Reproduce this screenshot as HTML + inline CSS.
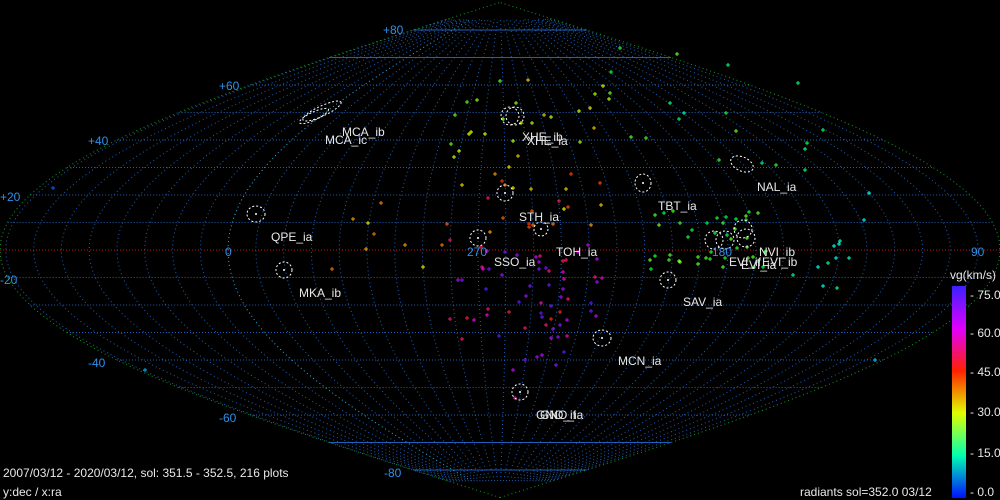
<!DOCTYPE html>
<html><head><meta charset="utf-8"><style>
html,body{margin:0;padding:0;background:#000;width:1000px;height:500px;overflow:hidden}
svg{display:block}
text{font-family:"Liberation Sans",sans-serif}
</style></head><body>
<svg id="s" width="1000" height="500" xmlns="http://www.w3.org/2000/svg">
<rect width="1000" height="500" fill="#000"/>
<g id="grid"></g>
<g id="pts"></g>
<g fill="none" stroke="#fff" stroke-width="1" stroke-dasharray="2,2">
<ellipse cx="322" cy="111" rx="21" ry="5" transform="rotate(-25 322 111)"/>
<ellipse cx="314" cy="116" rx="16" ry="4" transform="rotate(-25 314 116)"/>
<circle cx="510" cy="116" r="9"/><circle cx="515" cy="116" r="9"/>
<circle cx="505" cy="193" r="8"/><circle cx="541" cy="229" r="7"/>
<circle cx="478" cy="238" r="8"/>
<ellipse cx="643" cy="183" rx="8" ry="9"/>
<ellipse cx="742" cy="164" rx="12" ry="7" transform="rotate(25 742 164)"/>
<ellipse cx="256" cy="214" rx="9" ry="8"/>
<circle cx="284" cy="270" r="8"/>
<circle cx="668" cy="280" r="8"/>
<ellipse cx="602" cy="338" rx="9" ry="8"/>
<circle cx="520" cy="392" r="8"/>
<circle cx="714" cy="240" r="9"/><circle cx="725" cy="240" r="9"/>
<circle cx="743" cy="229" r="9"/><circle cx="746" cy="238" r="9"/>
</g>
<g fill="#fff">
<circle cx="256" cy="214" r="1"/><circle cx="284" cy="270" r="1"/><circle cx="505" cy="193" r="1"/>
<circle cx="478" cy="238" r="1"/><circle cx="541" cy="229" r="1"/><circle cx="668" cy="280" r="1"/>
<circle cx="602" cy="338" r="1"/><circle cx="520" cy="392" r="1"/><circle cx="643" cy="183" r="1"/>
</g>
<g fill="#e8e8e8" font-size="12">
<text x="342" y="136">MCA_ib</text><text x="325" y="144">MCA_ic</text>
<text x="522" y="141">XHE_ib</text><text x="527" y="145">XHE_ia</text>
<text x="519" y="221">STH_ia</text>
<text x="494" y="266">SSO_ia</text>
<text x="556" y="256">TOH_ia</text>
<text x="658" y="210">TBT_ia</text>
<text x="757" y="191">NAL_ia</text>
<text x="271" y="241">QPE_ia</text>
<text x="299" y="297">MKA_ib</text>
<text x="683" y="306">SAV_ia</text>
<text x="618" y="365">MCN_ia</text>
<text x="536" y="419">GNO_if</text><text x="540" y="419">GNO_ia</text>
<text x="759" y="256">NVI_ib</text>
<text x="729" y="266">EVI_if</text><text x="762" y="266">EVI_ib</text><text x="741" y="269">EVI_ia</text>
</g>
<g fill="#2f8fe8" font-size="12">
<text x="383" y="34">+80</text><text x="219" y="90">+60</text><text x="88" y="145">+40</text>
<text x="0" y="201">+20</text><text x="225" y="256">0</text><text x="0" y="284">-20</text>
<text x="88" y="367">-40</text><text x="219" y="422">-60</text><text x="384" y="477">-80</text>
<text x="467" y="256">270</text><text x="712" y="256">180</text><text x="971" y="256">90</text>
</g>
<defs><linearGradient id="cb" x1="0" y1="0" x2="0" y2="1">
<stop offset="0" stop-color="#3a20ff"/><stop offset="0.2" stop-color="#e000ff"/>
<stop offset="0.4" stop-color="#ff2000"/><stop offset="0.6" stop-color="#e0ff00"/>
<stop offset="0.8" stop-color="#00ffb0"/><stop offset="1" stop-color="#0010ff"/>
</linearGradient></defs>
<rect x="952" y="286" width="14" height="212" fill="url(#cb)"/>
<g fill="#e8e8e8" font-size="12">
<text x="950" y="279">vg(km/s)</text>
<text x="970" y="299">- 75.0</text><text x="970" y="337">- 60.0</text>
<text x="970" y="376">- 45.0</text><text x="970" y="416">- 30.0</text>
<text x="970" y="457">- 15.0</text><text x="970" y="496">- 0.0</text>
<text x="3" y="477">2007/03/12 - 2020/03/12,  sol: 351.5 - 352.5, 216 plots</text>
<text x="3" y="496">y:dec / x:ra</text>
<text x="800" y="496">radiants sol=352.0 03/12</text>
</g>
</svg>
<script>
var NS="http://www.w3.org/2000/svg",g=document.getElementById("grid"),P=document.getElementById("pts");
function X(d,l){return 500+2.778*d*Math.cos(l*Math.PI/180)}function Y(l){return 250-2.75*l}
function path(dd,col,dash,w){var p=document.createElementNS(NS,"path");p.setAttribute("d",dd);p.setAttribute("fill","none");p.setAttribute("stroke",col);p.setAttribute("stroke-width",w||1);if(dash)p.setAttribute("stroke-dasharray",dash);g.appendChild(p);}
for(var l=-80;l<=80;l+=10){var h=500*Math.cos(l*Math.PI/180);var solid=Math.abs(l)>=70;
path("M"+(500-h)+" "+Y(l)+"H"+(500+h),l==0?"#d01010":"#1f5fb8",solid?null:"1,2",1);}
function mer(d,col,dash,lim){var s="";for(var l=-lim;l<=lim;l+=2){s+=(l==-lim?"M":"L")+X(d,l).toFixed(1)+" "+Y(l).toFixed(1);}path(s,col,dash,1);}
for(var k=-30;k<=30;k++){var d=-97.9+10*k;if(d<=-180||d>=180)continue;mer(d,Math.abs(d+97.9)<1?"#30b0e8":"#1f5fb8","1,3",84);}
mer(-180,"#10a020","1,3",90);mer(180,"#10a020","1,3",90);
var seed=7;function r(){seed=(seed*16807)%2147483647;return seed/2147483647;}
function col(v){var stops=[[0,[0,16,255]],[15,[0,255,255]],[30,[0,255,60]],[45,[230,255,0]],[60,[255,40,0]],[68,[230,0,255]],[75,[80,30,255]]];
for(var i=1;i<stops.length;i++){if(v<=stops[i][0]){var a=stops[i-1],b=stops[i],t=(v-a[0])/(b[0]-a[0]);return "rgb("+[0,1,2].map(function(j){return Math.round(a[1][j]+t*(b[1][j]-a[1][j]))}).join(",")+")";}}return "rgb(80,30,255)";}
function pt(x,y,v){var p=document.createElementNS(NS,"path");p.setAttribute("d","M"+(x-2)+" "+y+"h4M"+x+" "+(y-2)+"v4");p.setAttribute("stroke",col(v));p.setAttribute("stroke-width","1");P.appendChild(p);}
var i;
for(i=0;i<90;i++){var x=450+r()*160,y=80+r()*260;var v=y<170?35+r()*15:(y<240?45+r()*18:60+r()*15);pt(x|0,y|0,v);}
for(i=0;i<25;i++){pt((520+r()*50)|0,(260+r()*110)|0,63+r()*12);}
for(i=0;i<45;i++){pt((650+r()*120)|0,(210+r()*60)|0,28+r()*10);}
for(i=0;i<20;i++){pt((580+r()*260)|0,(40+r()*160)|0,20+r()*25);}
for(i=0;i<12;i++){pt((760+r()*110)|0,(190+r()*100)|0,14+r()*10);}
for(i=0;i<10;i++){pt((330+r()*120)|0,(200+r()*80)|0,45+r()*15);}
pt(53,188,5);pt(145,370,10);pt(875,360,12);pt(513,370,70);pt(515,398,65);
</script>
</body></html>
